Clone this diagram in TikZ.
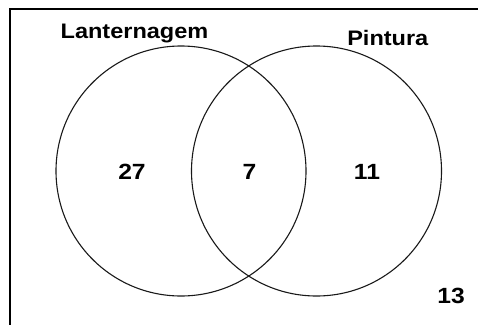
\documentclass[tikz,border=0pt]{standalone}
\usepackage{fontspec}
\setmainfont{Liberation Sans}
\tikzset{
  lbl/.style={font=\fontsize{21}{25}\selectfont\bfseries, inner sep=0pt, anchor=base},
  num/.style={font=\fontsize{22}{26}\selectfont\bfseries, inner sep=0pt, anchor=base},
  setc/.style={draw=black!90, line width=1.1pt},
  frame/.style={draw=black, line width=2.6pt}
}
\newcommand{\wide}[1]{\scalebox{1.12}[1]{#1}}
\begin{document}
\begin{tikzpicture}[x=1pt,y=-1pt]
\useasboundingbox (0,0) rectangle (478,324);
\coordinate (fb) at (10,330);
\coordinate (fc) at (10,9);
\coordinate (fr) at (485,9);
\draw[frame] (fb) -- (fc) -- (fr);
\node[setc, circle, minimum size=250pt, inner sep=0pt] (A) at (181,171) {};
\node[setc, circle, minimum size=250pt, inner sep=0pt] (B) at (316.5,171) {};
\node[lbl] (la) at (134.5,38.3) {\wide{Lanternagem}};
\node[lbl] (lb) at (387.8,45.7) {\wide{Pintura}};
\node[num] (n27) at (132,179.5) {\wide{27}};
\node[num] (n7) at (249.5,179.5) {\wide{7}};
\node[num] (n11) at (367,179.5) {\wide{11}};
\node[num] (n13) at (451,303.5) {\wide{13}};
\end{tikzpicture}
\end{document}
